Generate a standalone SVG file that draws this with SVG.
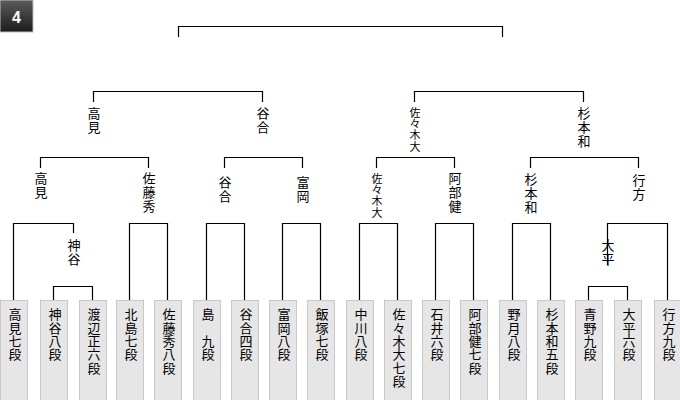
<svg xmlns="http://www.w3.org/2000/svg" width="680" height="400" viewBox="0 0 680 400">
<style>
.ln{fill:none;stroke:#000;stroke-width:1.2}
.box{fill:#e6e6e6;stroke:#c8c8c8;stroke-width:1}
.t{font-family:"Noto Sans CJK JP","Noto Sans CJK SC",sans-serif;font-size:13px;fill:#000;writing-mode:vertical-rl;text-orientation:upright;letter-spacing:0.33px}
.l{letter-spacing:0.7px}
.s{font-size:11px;letter-spacing:0.3px}
.badge{font-family:"Liberation Sans",Arial,sans-serif;font-size:16px;font-weight:bold;fill:#fff;text-anchor:middle}
</style>
<defs>
<linearGradient id="bg" x1="0" y1="0" x2="0" y2="1">
<stop offset="0" stop-color="#5c5c5c"/>
<stop offset="1" stop-color="#1c1c1c"/>
</linearGradient>
</defs>
<rect width="680" height="400" fill="#fff"/>
<g id="badge">
<rect x="0" y="0" width="33" height="32" fill="url(#bg)" stroke="#bdbdbd" stroke-width="1"/>
<text class="badge" x="16.5" y="22.5">4</text>
</g>
<g id="connectors">
<path class="ln" d="M178.5 37V26.5H502.5V37"/>
<path class="ln" d="M93.5 102V91.5H262.5V102M414.5 102V91.5H583.5V102"/>
<path class="ln" d="M40.5 168V157.5H148.5V168M224.5 168V157.5H302.5V168M376.5 168V157.5H454.5V168M530.5 168V157.5H638.5V168"/>
<path class="ln" d="M13.5 300V223.5H73.5V233M129.5 300V223.5H167.5V300M206.5 300V223.5H244.5V300M282.5 300V223.5H320.5V300M359.5 300V223.5H397.5V300M435.5 300V223.5H473.5V300M512.5 300V223.5H550.5V300M607.5 265V223.5H667.5V300"/>
<path class="ln" d="M53.5 300V286.5H92.5V300M588.5 300V286.5H627.5V300"/>
</g>
<g id="r2-takami"><text class="t l" x="94" y="107">高見</text></g>
<g id="r2-yagou"><text class="t l" x="263" y="107">谷合</text></g>
<g id="r2-sasakidai"><text class="t s" x="415" y="107">佐々木大</text></g>
<g id="r2-sugimoto"><text class="t l" x="584" y="107">杉本和</text></g>
<g id="r3-takami"><text class="t l" x="41" y="172">高見</text></g>
<g id="r3-satou"><text class="t l" x="149" y="172">佐藤秀</text></g>
<g id="r3-yagou"><text class="t l" x="225" y="175.5">谷合</text></g>
<g id="r3-tomioka"><text class="t l" x="303" y="175.5">富岡</text></g>
<g id="r3-sasakidai"><text class="t s" x="377" y="173">佐々木大</text></g>
<g id="r3-abe"><text class="t l" x="455" y="172">阿部健</text></g>
<g id="r3-sugimoto"><text class="t l" x="531" y="173">杉本和</text></g>
<g id="r3-namekata"><text class="t l" x="639" y="174">行方</text></g>
<g id="r4-kamiya"><text class="t l" x="74" y="239">神谷</text></g>
<g id="r4-oohira"><text class="t l" x="608" y="239">大平</text></g>
<g id="p01"><rect class="box" x="0.5" y="300.5" width="27" height="120"/><text class="t" x="15" y="308">高見七段</text></g>
<g id="p02"><rect class="box" x="40.5" y="300.5" width="27" height="120"/><text class="t" x="55" y="308">神谷八段</text></g>
<g id="p03"><rect class="box" x="79.5" y="300.5" width="27" height="120"/><text class="t" x="94" y="308">渡辺正六段</text></g>
<g id="p04"><rect class="box" x="116.5" y="300.5" width="27" height="120"/><text class="t" x="131" y="308">北島七段</text></g>
<g id="p05"><rect class="box" x="154.5" y="300.5" width="27" height="120"/><text class="t" x="169" y="308">佐藤秀八段</text></g>
<g id="p06"><rect class="box" x="193.5" y="300.5" width="27" height="120"/><text class="t" x="208" y="308">島　九段</text></g>
<g id="p07"><rect class="box" x="231.5" y="300.5" width="27" height="120"/><text class="t" x="246" y="308">谷合四段</text></g>
<g id="p08"><rect class="box" x="269.5" y="300.5" width="27" height="120"/><text class="t" x="284" y="308">富岡八段</text></g>
<g id="p09"><rect class="box" x="307.5" y="300.5" width="27" height="120"/><text class="t" x="322" y="308">飯塚七段</text></g>
<g id="p10"><rect class="box" x="346.5" y="300.5" width="27" height="120"/><text class="t" x="361" y="308">中川八段</text></g>
<g id="p11"><rect class="box" x="384.5" y="300.5" width="27" height="120"/><text class="t" x="399" y="308">佐々木大七段</text></g>
<g id="p12"><rect class="box" x="422.5" y="300.5" width="27" height="120"/><text class="t" x="437" y="308">石井六段</text></g>
<g id="p13"><rect class="box" x="460.5" y="300.5" width="27" height="120"/><text class="t" x="475" y="308">阿部健七段</text></g>
<g id="p14"><rect class="box" x="499.5" y="300.5" width="27" height="120"/><text class="t" x="514" y="308">野月八段</text></g>
<g id="p15"><rect class="box" x="537.5" y="300.5" width="27" height="120"/><text class="t" x="552" y="308">杉本和五段</text></g>
<g id="p16"><rect class="box" x="575.5" y="300.5" width="27" height="120"/><text class="t" x="590" y="308">青野九段</text></g>
<g id="p17"><rect class="box" x="614.5" y="300.5" width="27" height="120"/><text class="t" x="629" y="308">大平六段</text></g>
<g id="p18"><rect class="box" x="654.5" y="300.5" width="27" height="120"/><text class="t" x="669" y="308">行方九段</text></g>
</svg>
